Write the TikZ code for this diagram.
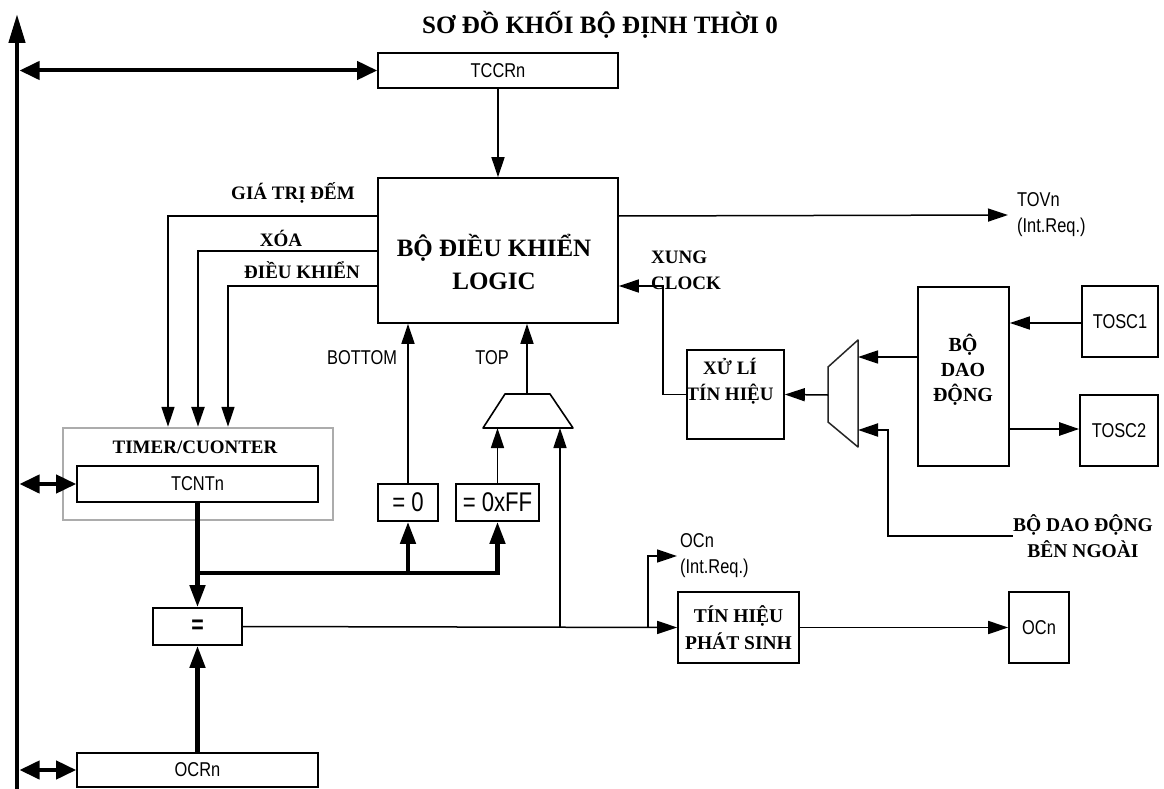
\documentclass[tikz,border=0pt]{standalone}
\usepackage{fontspec}
\setmainfont{Liberation Serif}
\newfontfamily\nsans[FakeStretch=0.82]{Liberation Sans}
\usetikzlibrary{arrows.meta}
\tikzset{
  box/.style={draw=black, line width=1.6pt, inner sep=0pt, fill=white},
  ser/.style={font=\bfseries\fontsize{19}{26}\selectfont, align=center, inner sep=0pt},
  san/.style={font=\nsans\fontsize{20}{26}\selectfont, align=left, inner sep=0pt},
  wire/.style={line width=1.5pt},
  ar/.style={wire, -{Triangle[length=20pt,width=13pt]}},
  thk/.style={line width=4.5pt, -{Triangle[length=22pt,width=15pt]}},
  dbl/.style={line width=4pt, {Triangle[length=20pt,width=18pt]}-{Triangle[length=20pt,width=18pt]}},
}
\begin{document}
\begin{tikzpicture}[x=1pt,y=-1pt]
\useasboundingbox (0,0) rectangle (1164,789);
\fill[white] (0,0) rectangle (1164,789);

% title
\node[font=\bfseries\fontsize{25}{30}\selectfont, inner sep=0pt] (title) at (600,25) {SƠ ĐỒ KHỐI BỘ ĐỊNH THỜI 0};

% bus
\coordinate (busbot) at (17,789);
\coordinate (bustop) at (17,14);
\draw[line width=4.5pt, -{Triangle[length=29pt,width=16pt]}] (busbot) -- (bustop);

% boxes
\node[box, minimum width=240pt, minimum height=35pt, san] (tccr) at (498,70.5) {TCCRn};
\node[box, minimum width=240pt, minimum height=145pt] (logic) at (498,250.5) {};
\node[ser, font=\bfseries\fontsize{25}{33}\selectfont] (logictxt) at (494,261.5) {BỘ ĐIỀU KHIỂN\\LOGIC};

\node[draw=gray!65, line width=2.5pt, inner sep=0pt, minimum width=270pt, minimum height=92pt] (timer) at (198,474) {};
\node[ser] (timertxt) at (195,447) {TIMER/CUONTER};
\node[box, minimum width=241pt, minimum height=36pt, san] (tcnt) at (197.5,484) {TCNTn};

\node[box, minimum width=89pt, minimum height=37pt, font=\nsans\bfseries\fontsize{26}{26}\selectfont] (eq) at (197.5,626.5) {=};
\node[box, minimum width=241pt, minimum height=34pt, san] (ocr) at (197.5,770) {OCRn};

\node[box, minimum width=60pt, minimum height=37pt, font=\nsans\fontsize{27}{27}\selectfont] (eq0) at (408,502.5) {= 0};
\node[box, minimum width=83pt, minimum height=37pt, font=\nsans\fontsize{27}{27}\selectfont] (eqff) at (497.5,502.5) {= 0xFF};

\node[box, minimum width=97pt, minimum height=89pt] (xuli) at (735.5,394.5) {};
\node[ser] (xulitxt) at (730,381.5) {XỬ LÍ\\TÍN HIỆU};

\node[box, minimum width=91pt, minimum height=179pt] (dao) at (963.5,376.5) {};
\node[ser, font=\bfseries\fontsize{20}{25}\selectfont] (daotxt) at (963,370) {BỘ\\DAO\\ĐỘNG};

\node[box, minimum width=76pt, minimum height=71pt, san] (tosc1) at (1120,321.5) {TOSC1};
\node[box, minimum width=78pt, minimum height=71pt, san] (tosc2) at (1119,430.5) {TOSC2};

\node[box, minimum width=121pt, minimum height=71pt, ser, font=\bfseries\fontsize{19.5}{27}\selectfont] (phat) at (738.5,627.5) {TÍN HIỆU\\PHÁT SINH};
\node[box, minimum width=60pt, minimum height=71pt, san] (ocn) at (1039,627.5) {OCn};

% multiplexers
\coordinate (m1bl) at (483,428);
\coordinate (m1tl) at (505,394);
\coordinate (m1tr) at (550,394);
\coordinate (m1br) at (573,428);
\coordinate (m1out) at (527,394);
\draw[line width=1.6pt, line join=round] (m1bl) -- (m1tl) -- (m1tr) -- (m1br) -- cycle;

\coordinate (m2a) at (828,367);
\coordinate (m2b) at (858,340);
\coordinate (m2c) at (858,447);
\coordinate (m2d) at (828,422);
\coordinate (m2out) at (828,395);
\coordinate (m2in1) at (858,357);
\coordinate (m2in2) at (858,430);
\draw[line width=1.5pt, draw=gray!30!black, line join=round] (m2a) -- (m2b) -- (m2c) -- (m2d) -- cycle;

% labels
\node[ser] (lgia) at (293,193) {GIÁ TRỊ ĐẾM};
\node[ser] (lxoa) at (281,238) {XÓA};
\node[ser] (ldk) at (302,270) {ĐIỀU KHIỂN};
\node[san] (lbot) at (362,358) {BOTTOM};
\node[san] (ltop) at (492,358) {TOP};
\node[san, anchor=west] (tov) at (1017,215) {TOVn\\(Int.Req.)};
\node[ser, anchor=west, align=left] (lclk) at (651,270) {XUNG\\CLOCK};
\node[san, anchor=west] (ocnlbl) at (680,556) {OCn\\(Int.Req.)};
\node[ser, font=\bfseries\fontsize{19.5}{26}\selectfont] (extlbl) at (1083,536) {BỘ DAO ĐỘNG\\BÊN NGOÀI};

% connectors
\draw[dbl] (bustop |- tccr.west) ++(2.5,0) coordinate (busA) -- (tccr.west);
\draw[dbl] (busA |- tcnt.west) -- (tcnt.west);
\draw[dbl] (busA |- ocr.west) -- (ocr.west);

\draw[ar] (tccr.south) -- (logic.north);
\draw[ar] (logic.west |- 0,216) -| (timer.north -| 168,0);
\draw[ar, line width=2.5pt] (logic.west |- 0,251) -| (timer.north -| 198,0);
\draw[ar] (logic.west |- 0,286) -| (timer.north -| 228,0);

\draw[ar] (logic.east |- 0,216) -- ([xshift=-9pt]tov.west);

\draw[ar] (eq0.north) -- (eq0.north |- logic.south);
\draw[ar] (m1out) -- (m1out |- logic.south);
\draw[ar] (eqff.north) -- (eqff.north |- m1bl);

\coordinate (j0) at (560,627);
\coordinate (j1) at (648,627);
\draw[ar] (j0) -- (j0 |- m1bl);

\draw[thk] (tcnt.south) -- (eq.north);
\draw[thk, line join=miter] (tcnt.south |- 0,573) -| (eqff.south);
\draw[thk] (eq0.south |- 0,573) -- (eq0.south);
\draw[thk] (ocr.north) -- (eq.south);

\draw[ar] (eq.east) -- (phat.west);
\draw[ar] (j1) |- ([xshift=-3pt]ocnlbl.west);
\draw[ar] (phat.east) -- (ocn.west);

\draw[ar] (xuli.west) -- (xuli.west -| 663,0) |- (logic.east |- 0,286);
\draw[ar] (m2out) -- (xuli.east);
\draw[ar] (dao.west |- m2in1) -- (m2in1);
\draw[ar, line width=2pt] (extlbl.west) -| (m2in2 -| 888,0) -- (m2in2);

\draw[ar] (tosc1.west |- 0,323) -- (dao.east |- 0,323);
\draw[ar, line width=2.5pt] (dao.east |- 0,429) -- (tosc2.west |- 0,429);
\end{tikzpicture}
\end{document}
